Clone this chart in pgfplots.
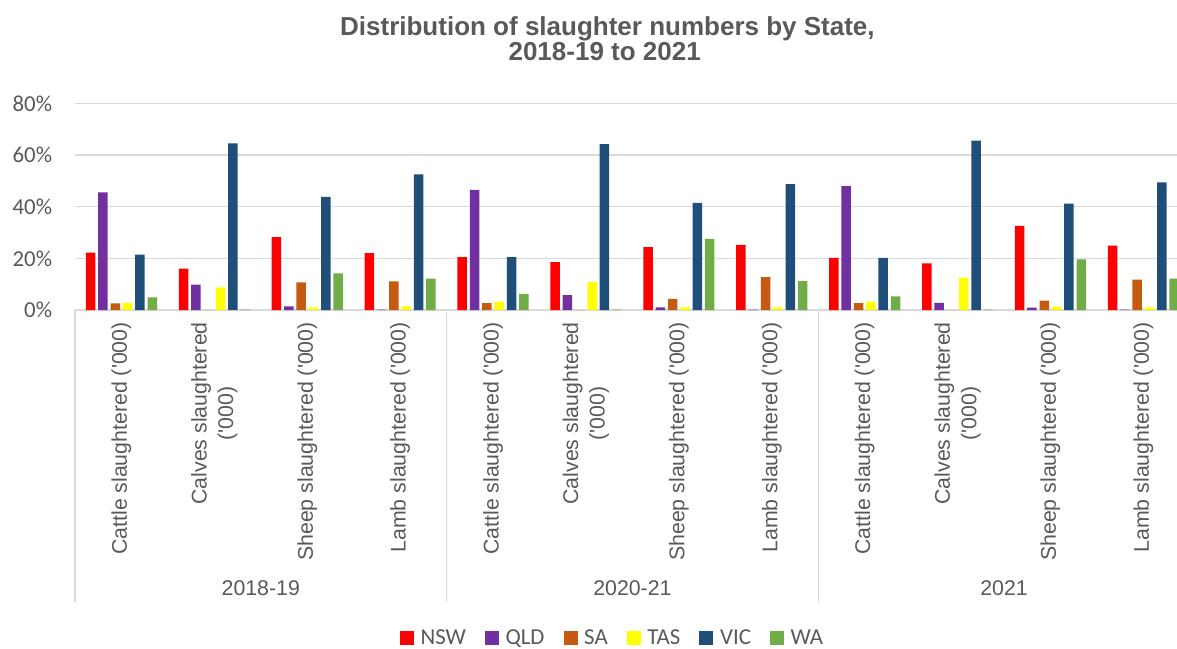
\documentclass[border=0pt]{standalone}
\usepackage{fontspec}
\setmainfont{Liberation Sans}
\newfontfamily\calibri{Carlito}
\usepackage{pgfplots}
\pgfplotsset{compat=1.18}
\definecolor{txt}{HTML}{595959}
\definecolor{gridc}{HTML}{D9D9D9}
\definecolor{cNSW}{HTML}{FF0000}
\definecolor{cQLD}{HTML}{7030A0}
\definecolor{cSA}{HTML}{C55A11}
\definecolor{cTAS}{HTML}{FFFF00}
\definecolor{cVIC}{HTML}{1F4E79}
\definecolor{cWA}{HTML}{70AD47}
\pgfplotsset{
  /pgfplots/ybar legend/.style={/pgfplots/legend image code/.code={\fill[##1] (0pt,-7pt) rectangle (14pt,7pt);}},
}
\begin{document}
\begin{tikzpicture}
\useasboundingbox (0,0) rectangle (1177pt,648pt);
\begin{axis}[
  at={(75pt,338pt)}, anchor=south west,
  scale only axis, width=1102pt, height=206.7pt,
  xmin=-0.5, xmax=11.362, ymin=0, ymax=80,
  enlargelimits=false,
  ybar=2.83pt, bar width=9.5pt,
  axis line style={draw=none},
  ytick={0,20,40,60,80}, yticklabels={0\%,20\%,40\%,60\%,80\%},
  ymajorgrids, grid style={gridc, line width=1.3pt},
  major tick length=0pt,
  xtick style={draw=none}, ytick style={draw=none},
  xtick={0,...,11},
  xticklabels={Cattle slaughtered (\textquotesingle000),{Calves slaughtered\\(\textquotesingle000)},Sheep slaughtered (\textquotesingle000),Lamb slaughtered (\textquotesingle000),
               Cattle slaughtered (\textquotesingle000),{Calves slaughtered\\(\textquotesingle000)},Sheep slaughtered (\textquotesingle000),Lamb slaughtered (\textquotesingle000),
               Cattle slaughtered (\textquotesingle000),{Calves slaughtered\\(\textquotesingle000)},Sheep slaughtered (\textquotesingle000),Lamb slaughtered (\textquotesingle000)},
  xticklabel style={rotate=90, anchor=east, align=center, font=\fontsize{21.3}{26.5}\selectfont, inner sep=0pt, text=txt},
  xticklabel shift=12pt,
  yticklabel style={font=\calibri\fontsize{22.8}{27}\selectfont, inner sep=0pt, text=txt, anchor=east},
  yticklabel shift=22.7pt,
  clip=false,
  legend columns=6,
  legend style={at={(0.4868,-1.585)}, anchor=center, draw=none, fill=none,
    font=\calibri\fontsize{22.8}{27}\selectfont, text=txt,
    nodes={inner sep=0pt},
    /tikz/every odd column/.append style={column sep=6.7pt},
    /tikz/every even column/.append style={column sep=19pt}},
]
\addplot[fill=cNSW, draw=none] coordinates {(0,22.2)(1,16.0)(2,28.2)(3,22.0)(4,20.5)(5,18.5)(6,24.3)(7,25.2)(8,20.2)(9,18.0)(10,32.6)(11,24.9)};
\addplot[fill=cQLD, draw=none] coordinates {(0,45.5)(1,9.8)(2,1.4)(3,0.1)(4,46.5)(5,5.8)(6,1.0)(7,0.1)(8,47.9)(9,2.8)(10,0.9)(11,0.1)};
\addplot[fill=cSA, draw=none] coordinates {(0,2.6)(1,0)(2,10.7)(3,11.1)(4,2.7)(5,0)(6,4.3)(7,12.7)(8,2.7)(9,0)(10,3.6)(11,11.8)};
\addplot[fill=cTAS, draw=none] coordinates {(0,2.8)(1,8.8)(2,1.0)(3,1.4)(4,3.2)(5,10.9)(6,1.0)(7,1.0)(8,3.2)(9,12.5)(10,1.3)(11,1.0)};
\addplot[fill=cVIC, draw=none] coordinates {(0,21.4)(1,64.5)(2,43.8)(3,52.5)(4,20.5)(5,64.2)(6,41.5)(7,48.7)(8,20.2)(9,65.6)(10,41.2)(11,49.4)};
\addplot[fill=cWA, draw=none] coordinates {(0,4.9)(1,0.1)(2,14.2)(3,12.1)(4,6.2)(5,0.1)(6,27.5)(7,11.2)(8,5.3)(9,0.1)(10,19.6)(11,12.1)};
\legend{NSW,QLD,SA,TAS,VIC,WA}
\draw[gridc, line width=1.3pt] (axis cs:-0.5,0) -- ++(0pt,-292pt);
\draw[gridc, line width=1.3pt] (axis cs:3.5,0) -- ++(0pt,-292pt);
\draw[gridc, line width=1.3pt] (axis cs:7.5,0) -- ++(0pt,-292pt);
\draw[gridc, line width=1.3pt] (axis cs:11.5,0) -- ++(0pt,-292pt);
\node[yshift=-278pt, font=\fontsize{21.3}{25}\selectfont, text=txt] at (axis cs:1.5,0) {2018-19};
\node[yshift=-278pt, font=\fontsize{21.3}{25}\selectfont, text=txt] at (axis cs:5.5,0) {2020-21};
\node[yshift=-278pt, font=\fontsize{21.3}{25}\selectfont, text=txt] at (axis cs:9.5,0) {2021};
\end{axis}
\node[anchor=base, font=\bfseries\fontsize{26}{26}\selectfont, text=txt] at (607.4pt,612.3pt) {Distribution of slaughter numbers by State,};
\node[anchor=base, font=\bfseries\fontsize{26}{26}\selectfont, text=txt] at (604.7pt,587pt) {2018-19 to 2021};
\end{tikzpicture}
\end{document}
